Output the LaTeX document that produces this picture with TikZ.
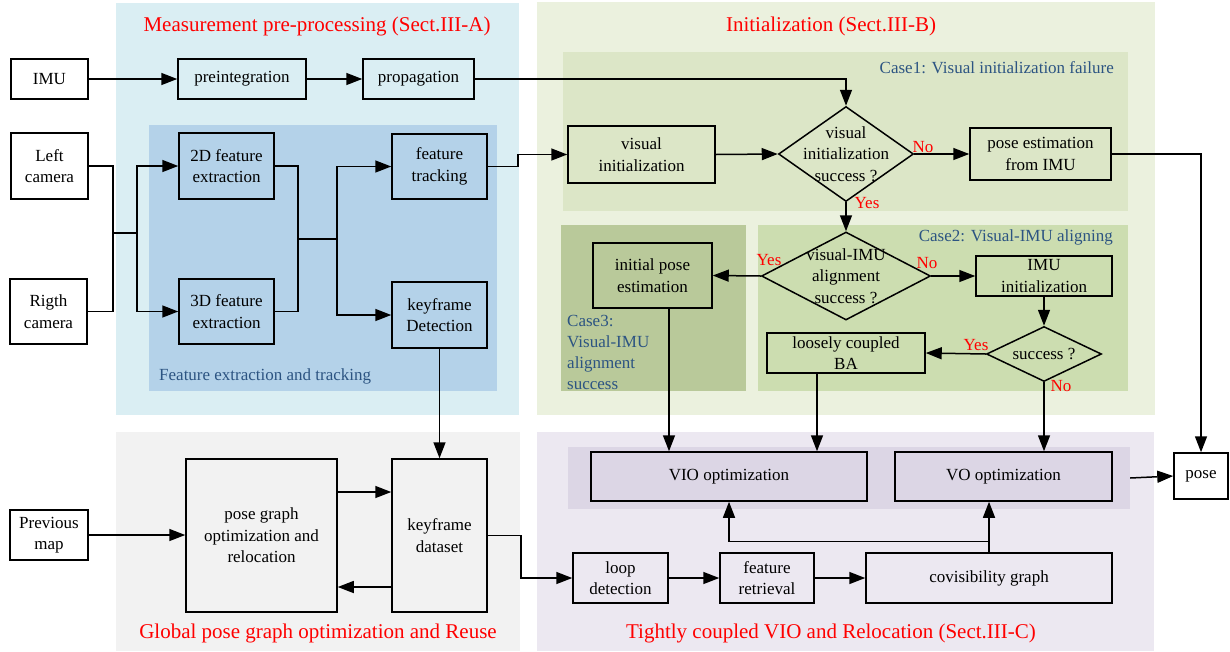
\documentclass[tikz,border=0pt]{standalone}
\usepackage{fontspec}
\setmainfont{Liberation Serif}
\usetikzlibrary{shapes.geometric,arrows.meta,calc}
\definecolor{blueOut}{HTML}{DAEEF3}
\definecolor{blueIn}{HTML}{B4D2E9}
\definecolor{greenOut}{HTML}{EBF1DE}
\definecolor{caseA}{HTML}{DCE6C7}
\definecolor{caseB}{HTML}{CCDDB0}
\definecolor{caseC}{HTML}{B9C99A}
\definecolor{grayReg}{HTML}{F2F2F2}
\definecolor{purpOut}{HTML}{ECE8F1}
\definecolor{purpBand}{HTML}{DCD6E5}
\definecolor{caseText}{RGB}{44,84,130}
\begin{document}
\begin{tikzpicture}[x=1pt,y=-1pt,
  font=\fontsize{17}{21.5}\selectfont,
  box/.style={draw, line width=1.5pt, align=center, inner sep=0pt},
  dia/.style={draw, diamond, line width=1.5pt, inner sep=0pt},
  arr/.style={line width=1.5pt, -{Triangle[length=16pt,width=12pt]}},
  ln/.style={line width=1.5pt},
  title/.style={text=red, font=\fontsize{21}{24}\selectfont},
  yn/.style={text=red, inner sep=0pt},
  caselab/.style={text=caseText, inner sep=0pt}]
\useasboundingbox (0,0) rectangle (1230,651);
\fill[white] (0,0) rectangle (1230,651);
% regions
\fill[blueOut] (116,3) rectangle (519,415);
\fill[blueIn] (149,125) rectangle (497,391);
\fill[greenOut] (537,2) rectangle (1155,415);
\fill[caseA] (563,52) rectangle (1128,211);
\fill[caseC] (561,225) rectangle (746,391);
\fill[caseB] (758,225) rectangle (1128,391);
\fill[grayReg] (116,432) rectangle (520,651);
\fill[purpOut] (537,432) rectangle (1154,651);
\node[fill=purpBand, minimum width=562pt, minimum height=62pt, inner sep=0pt] (band) at (849,478) {};
% titles
\node[title] (t1) at (317,26) {Measurement pre-processing (Sect.III-A)};
\node[title] (t2) at (831,26) {Initialization (Sect.III-B)};
\node[title] (t3) at (318,633) {Global pose graph optimization and Reuse};
\node[title] (t4) at (831,633) {Tightly coupled VIO and Relocation (Sect.III-C)};
\node[caselab, anchor=west] (c0) at (159,376) {Feature extraction and tracking};
\node[caselab, anchor=east] (c1) at (1114,68) {Case1: Visual initialization failure};
\node[caselab, anchor=east] (c2) at (1113,237) {Case2: Visual-IMU aligning};
\node[caselab, anchor=west, align=left, font=\fontsize{17}{21}\selectfont] (c3) at (567,352) {Case3:\\Visual-IMU\\alignment\\success};
% boxes
\node[box, fill=white, minimum width=77pt, minimum height=40pt] (imu) at (49.5,79) {IMU};
\node[box, minimum width=128pt, minimum height=40pt] (preint) at (242,79) {preintegration};
\node[box, minimum width=111pt, minimum height=40pt] (propag) at (418.5,79) {propagation};
\node[box, fill=white, minimum width=77pt, minimum height=66pt] (leftcam) at (49.5,166) {Left\\camera};
\node[box, fill=white, minimum width=77pt, minimum height=65pt] (rightcam) at (48.5,311.5) {Rigth\\camera};
\node[box, minimum width=95pt, minimum height=66pt] (fe2d) at (226.5,166) {2D feature\\extraction};
\node[box, minimum width=95pt, minimum height=65pt] (fe3d) at (226.5,311.5) {3D feature\\extraction};
\node[box, minimum width=95pt, minimum height=65pt] (ftrack) at (439.5,166.5) {feature\\tracking};
\node[box, minimum width=95pt, minimum height=66pt] (kfdet) at (439.5,315) {keyframe\\Detection};
\node[box, minimum width=147pt, minimum height=57pt] (visinit) at (641.5,154.5) {visual\\initialization};
\node[dia, minimum width=135pt, minimum height=95pt] (d1) at (846,154) {};
\node[align=center, inner sep=0pt] (d1t) at (846,154) {visual\\initialization\\success ?};
\node[box, minimum width=141pt, minimum height=52pt] (poseimu) at (1040.5,154) {pose estimation\\from IMU};
\node[box, minimum width=119pt, minimum height=65pt] (initpose) at (652.5,275.5) {initial pose\\estimation};
\node[dia, minimum width=169pt, minimum height=88pt] (d2) at (846,276) {};
\node[align=center, inner sep=0pt] (d2t) at (846,276) {visual-IMU\\alignment\\success ?};
\node[box, minimum width=136pt, minimum height=40pt] (imuinit) at (1044,276) {IMU\\initialization};
\node[dia, minimum width=115pt, minimum height=55pt] (d3) at (1044,354) {};
\node[inner sep=0pt] (d3t) at (1044,354) {success ?};
\node[box, minimum width=158pt, minimum height=40pt] (lcba) at (846,353) {loosely coupled\\BA};
\node[box, minimum width=276pt, minimum height=49pt] (vio) at (729,476.5) {VIO optimization};
\node[box, minimum width=217pt, minimum height=49pt] (vo) at (1003.5,476.5) {VO optimization};
\node[box, fill=white, minimum width=54pt, minimum height=46pt] (pose) at (1201,476) {pose};
\node[box, minimum width=95pt, minimum height=50pt] (loop) at (620.5,578) {loop\\detection};
\node[box, minimum width=94pt, minimum height=50pt] (fretr) at (767,578) {feature\\retrieval};
\node[box, minimum width=246pt, minimum height=50pt] (covis) at (989,578) {covisibility graph};
\node[box, fill=white, minimum width=78pt, minimum height=50pt] (prevmap) at (49,535) {Previous\\map};
\node[box, minimum width=151pt, minimum height=153pt] (pgo) at (261.5,535.5) {pose graph\\optimization and\\relocation};
\node[box, minimum width=95pt, minimum height=153pt] (kfds) at (439.5,535.5) {keyframe\\dataset};
% junctions
\coordinate (j1) at (113,233);
\coordinate (j2) at (137,233);
\coordinate (j3) at (298,239);
\coordinate (j4) at (337,239);
\coordinate (j5) at (518,166.5);
\coordinate (j6) at (521,535.5);
\coordinate (jc) at ($(covis.north)+(0,-11)$);
\coordinate (ipS) at ($(initpose.south)+(16.5,0)$);
\coordinate (baS) at ($(lcba.south)+(-29,0)$);
\coordinate (pgA) at ($(pgo.east)+(0,-43.5)$);
\coordinate (kdB) at ($(kfds.west)+(0,51.5)$);
% connectors
\draw[arr] (imu) -- (preint);
\draw[arr] (preint) -- (propag);
\draw[arr] (propag.east) -| (d1.north);
\draw[ln] (leftcam.east) -| (j1) |- (rightcam.east);
\draw[ln] (j1) -- (j2);
\draw[arr] (j2) |- (fe2d.west);
\draw[arr] (j2) |- (fe3d.west);
\draw[ln] (fe2d.east) -| (j3) |- (fe3d.east);
\draw[ln] (j3) -- (j4);
\draw[arr] (j4) |- (ftrack.west);
\draw[arr] (j4) |- (kfdet.west);
\draw[arr] (kfdet.south) -- (kfds.north);
\draw[arr] (ftrack.east) -- (j5) |- (visinit.west);
\draw[arr] (visinit.east) -- (d1.west);
\draw[arr] (d1.east) -- (poseimu.west);
\draw[arr] (poseimu.east) -| (pose.north);
\draw[arr] (d1.south) -- (d2.north);
\draw[arr] (d2.west) -- (initpose.east);
\draw[arr] (d2.east) -- (imuinit.west);
\draw[arr] (imuinit.south) -- (d3.north);
\draw[arr] (d3.west) -- (lcba.east);
\draw[arr] (ipS) -- (ipS |- vio.north);
\draw[arr] (baS) -- (baS |- vio.north);
\draw[arr] (d3.south) -- (d3.south |- vo.north);
\draw[arr] (band.east) -- (pose.west);
\draw[arr] (prevmap.east) -- (prevmap.east -| pgo.west);
\draw[arr] (pgA) -- (pgA -| kfds.west);
\draw[arr] (kdB) -- (kdB -| pgo.east);
\draw[arr] (kfds.east) -- (j6) |- (loop.west);
\draw[arr] (loop) -- (fretr);
\draw[arr] (fretr) -- (covis);
\draw[arr] (covis.north) -- (covis.north |- vo.south);
\draw[arr] (jc) -| (vio.south);
% yes / no labels
\node[yn] (n1) at (923,147) {No};
\node[yn] (y1) at (867,203) {Yes};
\node[yn] (y2) at (769,260) {Yes};
\node[yn] (n2) at (927,263) {No};
\node[yn] (y3) at (976,345) {Yes};
\node[yn] (n3) at (1061,386) {No};
\end{tikzpicture}
\end{document}
